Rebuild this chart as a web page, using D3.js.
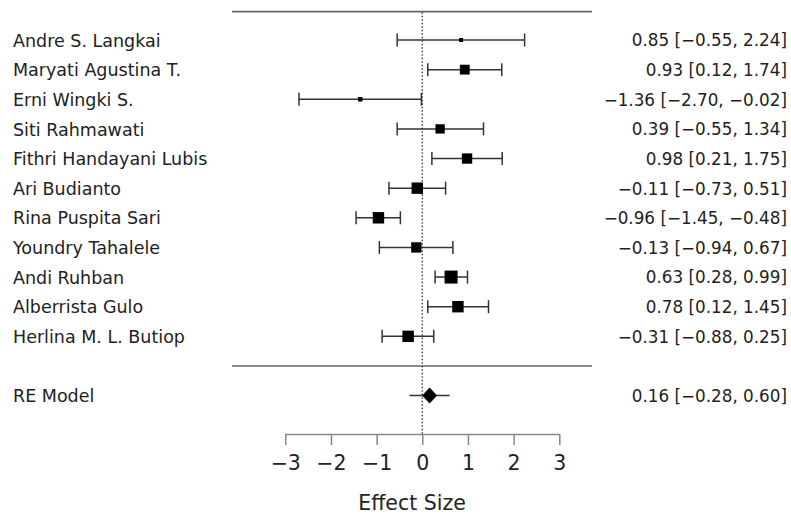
<!DOCTYPE html>
<html>
<head>
<meta charset="utf-8"/>
<title>Forest plot</title>
<script src="https://cdn.jsdelivr.net/npm/d3@7"></script>
<style>
	body { margin: 0; background: #fff; }
	svg text { font-family: "DejaVu Sans", sans-serif; fill: #222; }
</style>
</head>
<body>
<div id="chart"></div>
<script>
// study data
var authors = ["Andre S. Langkai", "Maryati Agustina T.", "Erni Wingki S.", "Siti Rahmawati",
	"Fithri Handayani Lubis", "Ari Budianto", "Rina Puspita Sari", "Youndry Tahalele",
	"Andi Ruhban", "Alberrista Gulo", "Herlina M. L. Butiop"];
var effects = [0.85, 0.93, -1.36, 0.39, 0.98, -0.11, -0.96, -0.13, 0.63, 0.78, -0.31];
var lower = [-0.55, 0.12, -2.70, -0.55, 0.21, -0.73, -1.45, -0.94, 0.28, 0.12, -0.88];
var upper = [2.24, 1.74, -0.02, 1.34, 1.75, 0.51, -0.48, 0.67, 0.99, 1.45, 0.25];
// approximate study weights (%), drive the square size
var weights = [3.5, 9.0, 4.0, 8.5, 9.5, 10.5, 10.5, 9.5, 12.0, 10.5, 10.5];

var reLabel = "RE Model";
var reEffect = 0.16, reLower = -0.28, reUpper = 0.60;

var ticks = [-3, -2, -1, 0, 1, 2, 3];
var xLabel = "Effect Size";

var W = 791, H = 515;
var svg = d3.select("#chart").append("svg").attr("width", W).attr("height", H);

var x = d3.scaleLinear().domain([-3, 3]).range([285.3, 559.3]);
// row index -> vertical position (studies 0..10, separator 11, RE model 12)
var y = d3.scaleLinear().domain([0, 12]).range([40, 395.6]);
var size = d3.scaleLinear().domain([3.5, 12]).range([4, 13]);
var fmt = function(v) { return d3.format(".2f")(v).replace("-", "\u2212"); };

// horizontal rules
svg.append("line").attr("x1", 232).attr("x2", 592)
	.attr("y1", y(-1) + 1.3).attr("y2", y(-1) + 1.3)
	.attr("stroke", "#666").attr("stroke-width", 1.6);
svg.append("line").attr("x1", 232).attr("x2", 592)
	.attr("y1", y(11)).attr("y2", y(11))
	.attr("stroke", "#666").attr("stroke-width", 1.6);

// reference line at zero
svg.append("line").attr("x1", x(0)).attr("x2", x(0))
	.attr("y1", y(-1) + 2).attr("y2", 434)
	.attr("stroke", "#333").attr("stroke-width", 1.3)
	.attr("stroke-dasharray", "1.3,2.2");

var rows = svg.selectAll("g.study").data(authors).enter().append("g")
	.attr("class", "study")
	.attr("transform", function(d, i) { return "translate(0," + y(i) + ")"; });

rows.append("line")
	.attr("x1", function(d, i) { return x(lower[i]); })
	.attr("x2", function(d, i) { return x(upper[i]); })
	.attr("stroke", "#333").attr("stroke-width", 1.5);
[lower, upper].forEach(function(arr) {
	rows.append("line")
		.attr("x1", function(d, i) { return x(arr[i]); })
		.attr("x2", function(d, i) { return x(arr[i]); })
		.attr("y1", -6.5).attr("y2", 6.5)
		.attr("stroke", "#333").attr("stroke-width", 1.5);
});
rows.append("rect")
	.attr("x", function(d, i) { return x(effects[i]) - size(weights[i]) / 2; })
	.attr("y", function(d, i) { return -size(weights[i]) / 2; })
	.attr("width", function(d, i) { return size(weights[i]); })
	.attr("height", function(d, i) { return size(weights[i]); })
	.attr("fill", "#000");

rows.append("text").attr("x", 13).attr("dy", "0.38em")
	.style("font-size", "17.5px")
	.text(function(d) { return d; });
rows.append("text").attr("x", 787).attr("dy", "0.38em")
	.attr("text-anchor", "end")
	.style("font-size", "16.8px")
	.text(function(d, i) { return fmt(effects[i]) + " [" + fmt(lower[i]) + ", " + fmt(upper[i]) + "]"; });

// summary row
var re = svg.append("g").attr("transform", "translate(0," + y(12) + ")");
re.append("line").attr("x1", x(reLower)).attr("x2", x(reUpper))
	.attr("stroke", "#333").attr("stroke-width", 1.5);
re.append("path")
	.attr("d", "M" + (x(reEffect) - 7.5) + ",0L" + x(reEffect) + ",-8L" + (x(reEffect) + 7.5) + ",0L" + x(reEffect) + ",8Z")
	.attr("fill", "#000");
re.append("text").attr("x", 13).attr("dy", "0.38em").style("font-size", "17.5px").text(reLabel);
re.append("text").attr("x", 787).attr("dy", "0.38em").attr("text-anchor", "end")
	.style("font-size", "16.8px")
	.text(fmt(reEffect) + " [" + fmt(reLower) + ", " + fmt(reUpper) + "]");

// x axis
var axis = svg.append("g").attr("transform", "translate(0,434)")
	.call(d3.axisBottom(x).tickValues(ticks).tickSize(11).tickSizeOuter(0).tickPadding(10)
		.tickFormat(function(d) { return fmt(d).replace(".00", ""); }));
axis.select(".domain").attr("stroke", "#888").attr("stroke-width", 1.5);
axis.selectAll(".tick line").attr("stroke", "#888").attr("stroke-width", 1.5);
axis.selectAll(".tick text").style("font-size", "20.5px").attr("fill", "#222")
	.style("font-family", "'DejaVu Sans', sans-serif");

svg.append("text").attr("x", 412).attr("y", 510)
	.attr("text-anchor", "middle").style("font-size", "20.5px").text(xLabel);
</script>
</body>
</html>
